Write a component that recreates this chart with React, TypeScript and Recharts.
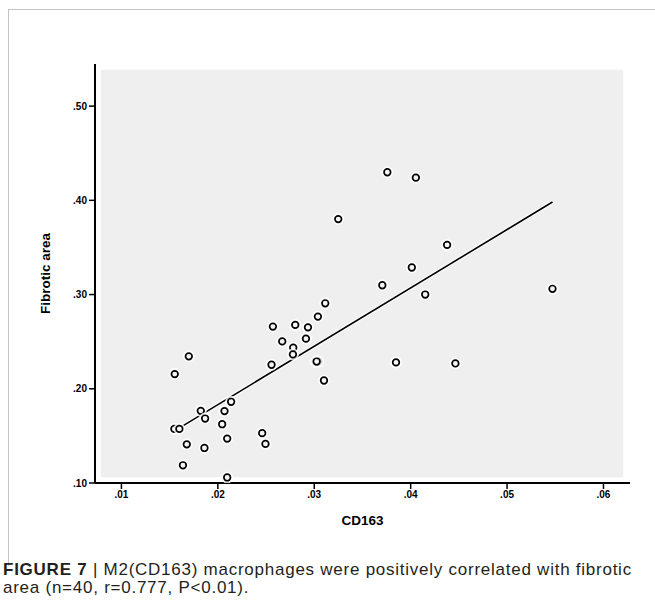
import { ScatterChart, Scatter, XAxis, YAxis, ReferenceArea, ReferenceLine } from 'recharts';

// CD163 (x) and fibrotic area (y), n=40
const cd163 = [
  0.03114, 0.03038, 0.02571, 0.02803, 0.02935, 0.02668, 0.02914, 0.02782, 0.02779, 0.01699,
  0.01553, 0.02557, 0.03015, 0.03040, 0.03101, 0.02138, 0.01823, 0.02069, 0.01868, 0.02045,
  0.01549, 0.01601, 0.02460, 0.02494, 0.02097, 0.01678, 0.01861, 0.01638, 0.02097, 0.03758,
  0.04054, 0.03249, 0.04378, 0.04012, 0.03706, 0.04151, 0.05471, 0.03848, 0.04464, 0.03025,
];
const fibrotic = [
  0.2907, 0.2766, 0.2660, 0.2678, 0.2652, 0.2503, 0.2532, 0.2436, 0.2365, 0.2344,
  0.2156, 0.2255, 0.2287, 0.2290, 0.2088, 0.1862, 0.1766, 0.1763, 0.1684, 0.1624,
  0.1574, 0.1574, 0.1529, 0.1415, 0.1471, 0.1410, 0.1372, 0.1188, 0.1059, 0.4298,
  0.4241, 0.3801, 0.3527, 0.3287, 0.3099, 0.3000, 0.3061, 0.2280, 0.2269, 0.2289,
];

// fit line ends
const fitX = [0.01598, 0.05471];
const fitY = [0.1582, 0.3982];

const xTicks = [0.01, 0.02, 0.03, 0.04, 0.05, 0.06];
const yTicks = [0.1, 0.2, 0.3, 0.4, 0.5];

const X_MIN = 0.00726;
const X_MAX = 0.06275;
const Y_MIN = 0.1;
const Y_MAX = 0.5447;

const points = cd163.map((x, i) => ({ x, y: fibrotic[i] }));

const fmt = (v: number) => v.toFixed(2).replace(/^0/, '');

const tickStyle = { fill: '#000', fontSize: 10, fontWeight: 'bold', fontFamily: 'Liberation Sans, Arial, sans-serif' };
const titleStyle = { fill: '#000', fontSize: 13.5, fontWeight: 'bold', fontFamily: 'Liberation Sans, Arial, sans-serif' };

const Dot = (props: any) => {
  const { cx, cy } = props;
  return (
    <g>
      <circle cx={cx} cy={cy} r={4.5} fill="none" stroke="#fff" strokeOpacity={0.8} strokeWidth={3} />
      <circle cx={cx} cy={cy} r={3.3} fill="#f6f6f6" stroke="#000" strokeWidth={1.7} />
    </g>
  );
};

export default function App() {
  return (
    <div style={{ position: 'absolute', left: 0, top: 0, width: 655, height: 616, background: '#fff' }}>
      <div
        style={{
          position: 'absolute',
          left: 8,
          top: 9,
          width: 647,
          height: 556,
          borderTop: '1.5px solid #c4c4c4',
          borderLeft: '1.5px solid #c4c4c4',
        }}
      />
      <div style={{ position: 'absolute', left: 0, top: 0 }}>
        <ScatterChart width={655} height={560} margin={{ top: 64, right: 25, bottom: 32, left: 40 }}>
          <ReferenceArea
            x1={X_MIN + 0.0006}
            x2={X_MAX - 0.0007}
            y1={Y_MIN + 0.006}
            y2={Y_MAX - 0.006}
            fill="#efefef"
            fillOpacity={1}
            stroke="none"
          />
          <XAxis
            type="number"
            dataKey="x"
            domain={[X_MIN, X_MAX]}
            ticks={xTicks}
            tickFormatter={fmt}
            allowDataOverflow
            height={45}
            tickSize={6}
            tick={tickStyle}
            tickLine={{ stroke: '#000', strokeWidth: 1.5 }}
            axisLine={{ stroke: '#000', strokeWidth: 2 }}
            label={{ value: 'CD163', position: 'insideBottom', offset: 3, style: titleStyle }}
          />
          <XAxis
            xAxisId="top"
            orientation="top"
            type="number"
            domain={[X_MIN, X_MAX]}
            height={0}
            tick={false}
            tickLine={false}
            axisLine={{ stroke: '#000', strokeWidth: 2 }}
          />
          <YAxis
            type="number"
            dataKey="y"
            domain={[Y_MIN, Y_MAX]}
            ticks={yTicks}
            tickFormatter={fmt}
            allowDataOverflow
            width={55}
            tickSize={6}
            tick={tickStyle}
            tickLine={{ stroke: '#000', strokeWidth: 1.5 }}
            axisLine={{ stroke: '#000', strokeWidth: 2 }}
            label={{ value: 'Fibrotic area', angle: -90, position: 'insideLeft', offset: 5, style: { ...titleStyle, textAnchor: 'middle' } }}
          />
          <YAxis
            yAxisId="right"
            orientation="right"
            type="number"
            domain={[Y_MIN, Y_MAX]}
            width={0}
            tick={false}
            tickLine={false}
            axisLine={{ stroke: '#000', strokeWidth: 2 }}
          />
          <ReferenceLine
            segment={[{ x: fitX[0], y: fitY[0] }, { x: fitX[1], y: fitY[1] }]}
            stroke="#fff"
            strokeOpacity={0.8}
            strokeWidth={4}
          />
          <ReferenceLine
            segment={[{ x: fitX[0], y: fitY[0] }, { x: fitX[1], y: fitY[1] }]}
            stroke="#000"
            strokeWidth={1.6}
          />
          <Scatter data={points} shape={<Dot />} isAnimationActive={false} />
        </ScatterChart>
      </div>
      <div
        style={{
          position: 'absolute',
          left: 3,
          top: 561,
          width: 652,
          whiteSpace: 'nowrap',
          fontFamily: 'Liberation Sans, Arial, sans-serif',
          fontSize: 17,
          letterSpacing: 0.75,
          lineHeight: '18px',
          color: '#231f20',
        }}
      >
        <b>FIGURE 7</b> | M2(CD163) macrophages were positively correlated with fibrotic
        <br />
        area (n=40, r=0.777, P&lt;0.01).
      </div>
    </div>
  );
}
